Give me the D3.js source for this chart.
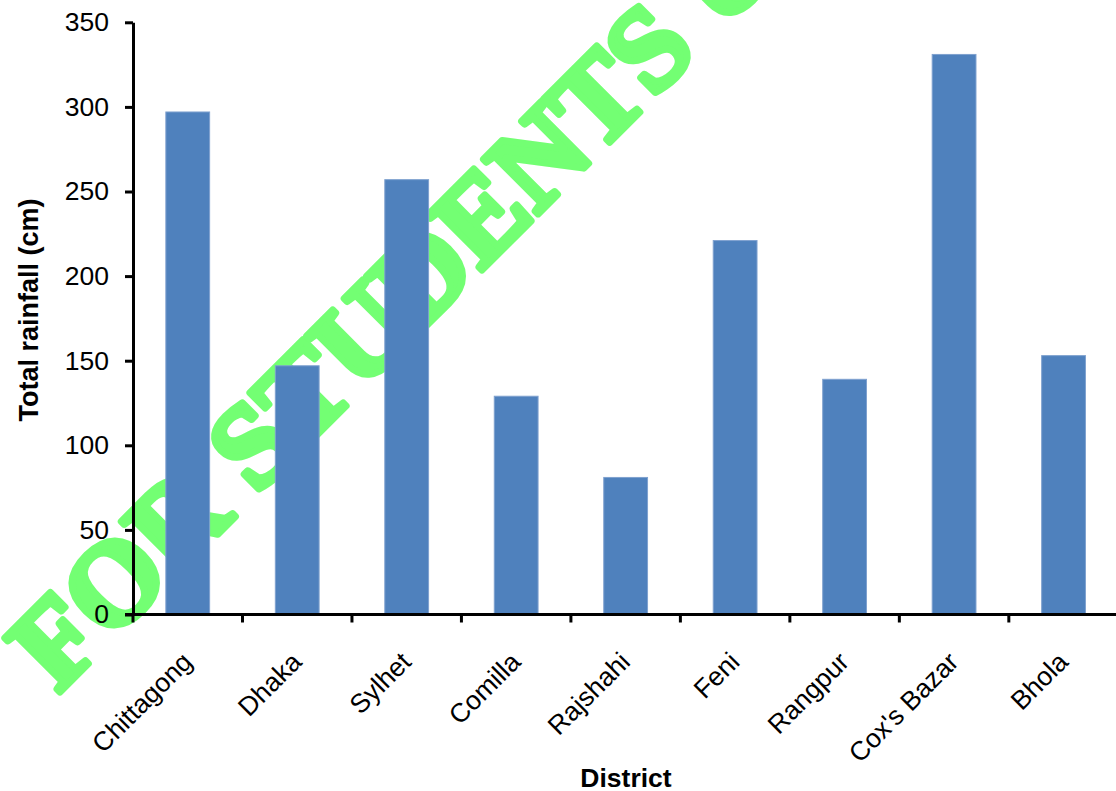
<!DOCTYPE html>
<html>
<head>
<meta charset="utf-8">
<script src="https://cdn.jsdelivr.net/npm/d3@7"></script>
<style>
  html, body { margin: 0; padding: 0; background: #fff; }
  svg { display: block; }
</style>
</head>
<body>
<svg id="chart" width="1116" height="791"></svg>
<script>
const districts = ["Chittagong", "Dhaka", "Sylhet", "Comilla", "Rajshahi", "Feni", "Rangpur", "Cox's Bazar", "Bhola"];
const rainfall = [297, 147, 257, 129, 81, 221, 139, 331, 153];
const yTicks = [0, 50, 100, 150, 200, 250, 300, 350];
const yTitle = "Total rainfall (cm)";
const xTitle = "District";
const watermark = "FOR STUDENTS USE ONLY";

(function () {
const svg = d3.select("#chart");
const W = 1116, H = 791;
const mLeft = 133, mTop = 22.3, mBottom = 614.5, mRight = 1118.3;

const x = d3.scaleBand().domain(districts).range([mLeft, mRight]).paddingInner(0.6).paddingOuter(0.3);
const y = d3.scaleLinear().domain([0, 350]).range([mBottom, mTop]);

svg.append("rect").attr("width", W).attr("height", H).attr("fill", "#fff");

// watermark (behind everything)
svg.append("text")
  .attr("transform", "translate(58,694) rotate(-45)")
  .attr("font-family", "'Liberation Serif', serif")
  .attr("font-weight", "bold")
  .attr("font-size", 118)
  .attr("letter-spacing", 0.5)
  .attr("fill", "#73FF73")
  .attr("stroke", "#73FF73")
  .attr("stroke-width", 7)
  .attr("stroke-linejoin", "round")
  .text(watermark);

// bars
svg.append("g").selectAll("rect").data(districts).join("rect")
  .attr("x", d => x(d))
  .attr("width", x.bandwidth())
  .attr("y", (d, i) => y(rainfall[i]))
  .attr("height", (d, i) => y(0) - y(rainfall[i]))
  .attr("fill", "#4F81BD")
  .attr("stroke", "#7FA1CF")
  .attr("stroke-width", 1);

// y axis
const yAxis = svg.append("g").attr("transform", `translate(${mLeft},0)`)
  .call(d3.axisLeft(y).tickValues(yTicks).tickSize(8).tickSizeOuter(0).tickPadding(16));
yAxis.select(".domain").attr("stroke", "#000").attr("stroke-width", 3);
yAxis.selectAll(".tick line").attr("stroke", "#000").attr("stroke-width", 3);
yAxis.selectAll(".tick text")
  .attr("font-family", "'Liberation Sans', Arial, sans-serif")
  .attr("font-size", 26.5).attr("fill", "#000");

// x axis line and ticks at band boundaries
const step = x.step();
const boundaries = districts.map(d => x(d) - step * x.paddingOuter()).concat([mRight]);
svg.append("line").attr("x1", mLeft - 8).attr("x2", mRight).attr("y1", mBottom).attr("y2", mBottom)
  .attr("stroke", "#000").attr("stroke-width", 3);
svg.append("g").selectAll("line").data(boundaries).join("line")
  .attr("x1", d => d).attr("x2", d => d)
  .attr("y1", mBottom).attr("y2", mBottom + 8)
  .attr("stroke", "#000").attr("stroke-width", 3);

// x labels
svg.append("g").selectAll("text").data(districts).join("text")
  .attr("transform", d => `translate(${x(d) + x.bandwidth() / 2 + 6},${mBottom + 49}) rotate(-45)`)
  .attr("text-anchor", "end")
  .attr("font-family", "'Liberation Sans', Arial, sans-serif")
  .attr("font-size", 26.5)
  .attr("fill", "#000")
  .text(d => d);

// axis titles
svg.append("text")
  .attr("transform", `translate(38,${(198 + 422) / 2}) rotate(-90)`)
  .attr("text-anchor", "middle")
  .attr("font-family", "'Liberation Sans', Arial, sans-serif")
  .attr("font-weight", "bold")
  .attr("font-size", 27)
  .attr("fill", "#000")
  .text(yTitle);

svg.append("text")
  .attr("x", 626).attr("y", 787)
  .attr("text-anchor", "middle")
  .attr("font-family", "'Liberation Sans', Arial, sans-serif")
  .attr("font-weight", "bold")
  .attr("font-size", 26.5)
  .attr("fill", "#000")
  .text(xTitle);
})();
</script>
</body>
</html>
